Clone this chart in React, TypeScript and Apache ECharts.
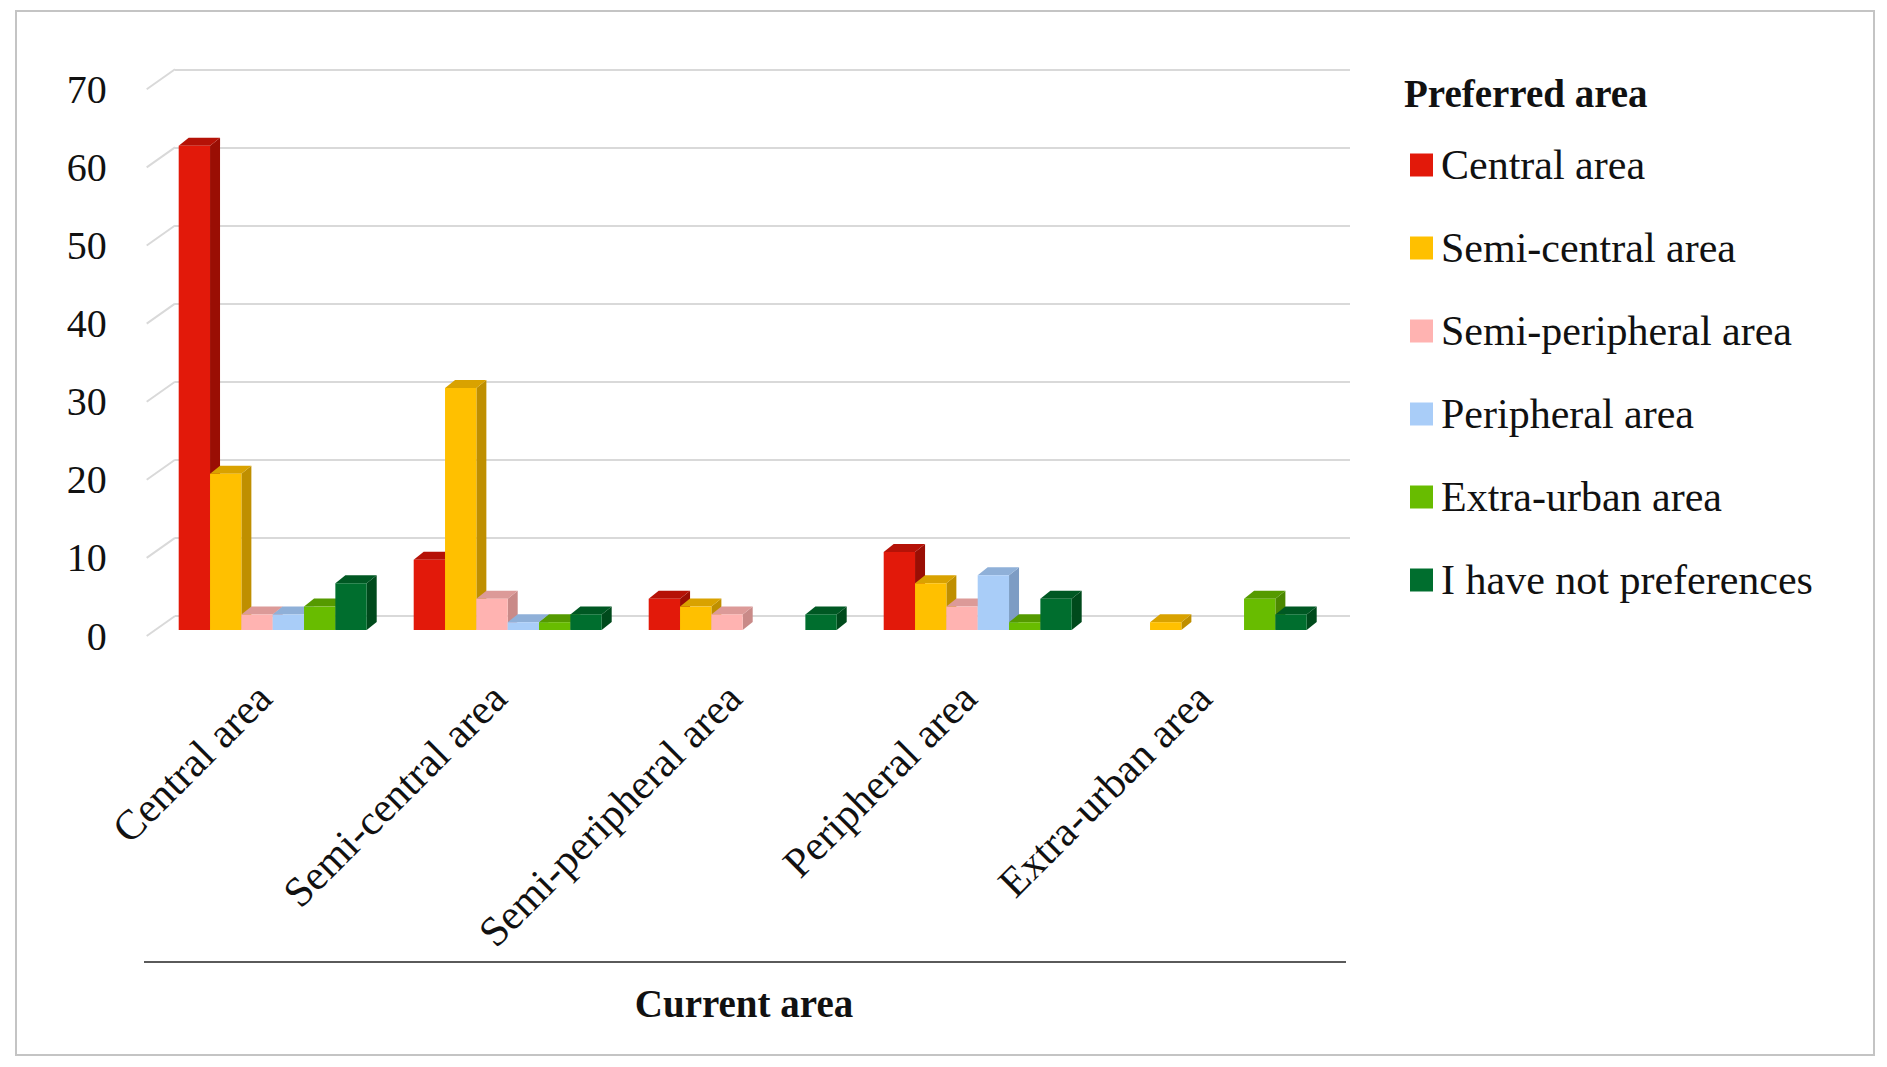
import React, { useEffect, useRef } from "react";
import * as echarts from "echarts";

const categories = ["Central area", "Semi-central area", "Semi-peripheral area", "Peripheral area", "Extra-urban area"];
const seriesNames = ["Central area", "Semi-central area", "Semi-peripheral area", "Peripheral area", "Extra-urban area", "I have not preferences"];
const centralValues = [62, 9, 4, 10, 0];
const semiCentralValues = [20, 31, 3, 6, 1];
const semiPeripheralValues = [2, 4, 2, 3, 0];
const peripheralValues = [2, 1, 0, 7, 0];
const extraUrbanValues = [3, 1, 0, 1, 4];
const noPreferenceValues = [6, 2, 2, 4, 2];
const yTicks = [0, 10, 20, 30, 40, 50, 60, 70];

const frontColors = ["#e2190a", "#ffc000", "#ffb3b1", "#a9cdf8", "#68bc00", "#006e2e"];
const topColors = ["#b51207", "#d9a200", "#dc9a98", "#8fb0d8", "#559a00", "#005823"];
const sideColors = ["#9a0e04", "#bf8f00", "#c98a88", "#7d9cc4", "#4b8800", "#004a1c"];

const FONT = "'Liberation Serif', 'Times New Roman', serif";
const BAR_DX = 10;
const BAR_DY = 8;
const WALL_DX = 28.3;
const WALL_DY = 20;

export default function App() {
  const ref = useRef<HTMLDivElement>(null);

  useEffect(() => {
    document.body.style.margin = "0";
    document.body.style.overflow = "hidden";
    const chart = echarts.init(ref.current!, null, { renderer: "svg" });
    const allValues = [centralValues, semiCentralValues, semiPeripheralValues, peripheralValues, extraUrbanValues, noPreferenceValues];
    const nSeries = allValues.length;

    const makeRender = (sIdx: number) => (params: any, api: any) => {
      const catIdx = api.value(0);
      const val = api.value(1);
      if (!val) return null;
      const band = api.size([1, 0])[0];
      const groupW = band * 0.8;
      const w = groupW / nSeries;
      const base = api.coord([catIdx, 0]);
      const top = api.coord([catIdx, val]);
      const x = base[0] - groupW / 2 + sIdx * w;
      const y0 = base[1];
      const y1 = top[1];
      return {
        type: "group",
        children: [
          {
            type: "polygon",
            shape: { points: [[x + w, y1], [x + w + BAR_DX, y1 - BAR_DY], [x + w + BAR_DX, y0 - BAR_DY], [x + w, y0]] },
            style: { fill: sideColors[sIdx] },
          },
          {
            type: "polygon",
            shape: { points: [[x, y1], [x + BAR_DX, y1 - BAR_DY], [x + w + BAR_DX, y1 - BAR_DY], [x + w, y1]] },
            style: { fill: topColors[sIdx] },
          },
          {
            type: "rect",
            shape: { x, y: y1, width: w, height: y0 - y1 },
            style: { fill: frontColors[sIdx] },
          },
        ],
      };
    };

    const barSeries = allValues.map((vals, sIdx) => ({
      type: "custom",
      name: seriesNames[sIdx],
      xAxisIndex: 1,
      yAxisIndex: 1,
      color: frontColors[sIdx],
      itemStyle: { color: frontColors[sIdx] },
      renderItem: makeRender(sIdx),
      data: vals.map((v, i) => [i, v]),
      z: 5,
    }));

    const option: any = {
      animation: false,
      backgroundColor: "#ffffff",
      grid: [
        { left: 146.7, width: 1175, top: 89.3, bottom: 431 },
        { left: 155.2, width: 1175, top: 83.3, bottom: 437 },
        { left: 175, width: 1175, top: 69.3, bottom: 451 },
      ],
      xAxis: [
        {
          type: "category",
          gridIndex: 0,
          data: categories,
          axisLine: { show: false },
          axisTick: { show: false },
          axisLabel: {
            interval: 0,
            rotate: 45,
            margin: 55,
            fontFamily: FONT,
            fontSize: 42,
            color: "#111",
          },
        },
        { type: "category", gridIndex: 1, data: categories, show: false },
        { type: "category", gridIndex: 2, data: categories, show: false },
      ],
      yAxis: [
        {
          type: "value",
          gridIndex: 0,
          min: 0,
          max: 70,
          interval: 10,
          axisLine: { show: false },
          axisTick: { show: false },
          splitLine: { show: false },
          axisLabel: { margin: 40, fontFamily: FONT, fontSize: 40, color: "#111" },
        },
        { type: "value", gridIndex: 1, min: 0, max: 70, interval: 10, show: false },
        {
          type: "value",
          gridIndex: 2,
          min: 0,
          max: 70,
          interval: 10,
          axisLine: { show: false },
          axisTick: { show: false },
          axisLabel: { show: false },
          splitLine: { show: true, lineStyle: { color: "#d9d9d9", width: 2 } },
        },
      ],
      legend: {
        data: seriesNames,
        orient: "vertical",
        left: 1405,
        top: 139,
        itemWidth: 23,
        itemHeight: 23,
        itemGap: 41,
        icon: "rect",
        textStyle: { fontFamily: FONT, fontSize: 42, color: "#111", padding: [0, 0, 0, 3] },
      },
      graphic: [
        {
          type: "rect",
          shape: { x: 16, y: 11, width: 1858, height: 1044 },
          style: { fill: "none", stroke: "#c4c4c4", lineWidth: 2 },
          silent: true,
          z: 0,
        },
        {
          type: "line",
          shape: { x1: 144, y1: 962, x2: 1346, y2: 962 },
          style: { stroke: "#5a5a5a", lineWidth: 2 },
        },
        {
          type: "text",
          x: 744,
          y: 1003,
          style: {
            text: "Current area",
            font: `bold 39px ${FONT}`,
            fill: "#111",
            textAlign: "center",
            textVerticalAlign: "middle",
          },
        },
        {
          type: "text",
          x: 1404,
          y: 93,
          style: {
            text: "Preferred area",
            font: `bold 39px ${FONT}`,
            fill: "#111",
            textAlign: "left",
            textVerticalAlign: "middle",
          },
        },
      ],
      series: [
        {
          type: "custom",
          name: "wall",
          xAxisIndex: 0,
          yAxisIndex: 0,
          silent: true,
          data: yTicks.map((v) => [0, v]),
          renderItem: (params: any, api: any) => {
            const p = api.coord([0, api.value(1)]);
            const x = params.coordSys.x;
            return {
              type: "line",
              shape: { x1: x, y1: p[1], x2: x + WALL_DX, y2: p[1] - WALL_DY },
              style: { stroke: "#d9d9d9", lineWidth: 2 },
            };
          },
          z: 1,
        },
        ...barSeries,
      ],
    };
    chart.setOption(option);
    return () => chart.dispose();
  }, []);

  return <div ref={ref} style={{ width: 1887, height: 1067 }} />;
}
